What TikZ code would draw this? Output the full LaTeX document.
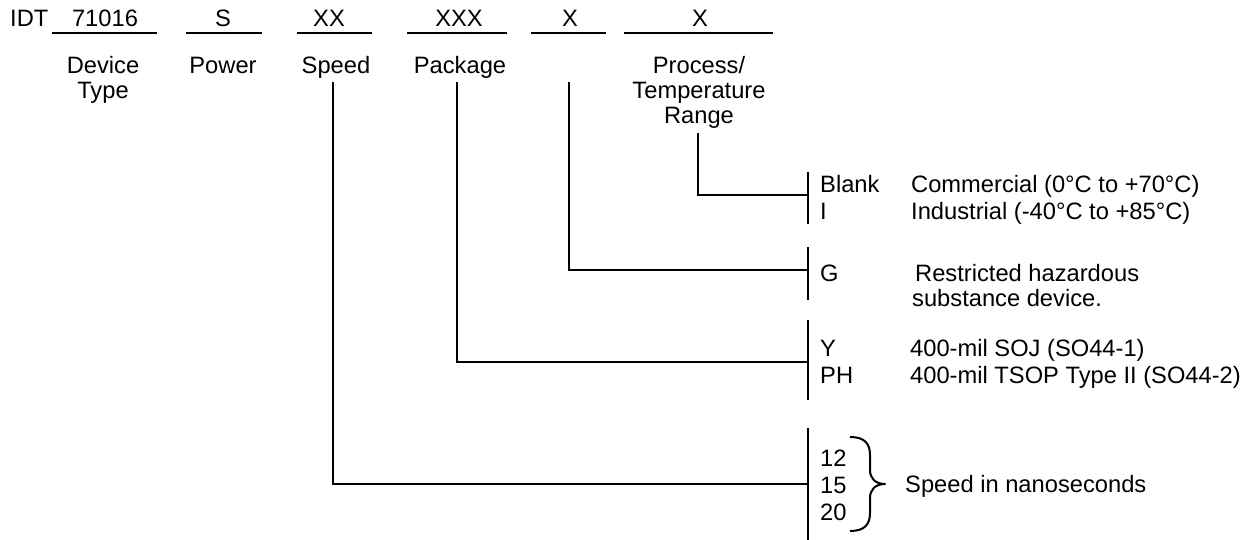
\documentclass[tikz,border=0pt]{standalone}
\usepackage{fontspec}
\setmainfont{Liberation Sans}
\begin{document}
\begin{tikzpicture}[x=1pt,y=-1pt,
  font=\fontsize{23.7}{26}\selectfont,
  lw/.style={line width=2pt},
  lt/.style={inner sep=0pt, anchor=base west},
  ct/.style={inner sep=0pt, anchor=base},
  uline/.style={lw},
  conn/.style={lw},
  bar/.style={lw}]
\useasboundingbox (0,0) rectangle (1248,540);

% ---- header code fields ----
\node[lt] (idt) at (10,27) {IDT};
\node[ct] (f1) at (105,27) {71016};
\node[ct] (f2) at (223,27) {S};
\node[ct] (f3) at (329,27) {XX};
\node[ct] (f4) at (459,27) {XXX};
\node[ct] (f5) at (570,27) {X};
\node[ct] (f6) at (700,27) {X};
\draw[uline] (52,33) -- (157,33);
\draw[uline] (186,33) -- (262,33);
\draw[uline] (297,33) -- (372,33);
\draw[uline] (407,33) -- (507,33);
\draw[uline] (531,33) -- (606,33);
\draw[uline] (624,33) -- (773,33);

% ---- field labels ----
\node[ct] (dev1) at (103,74) {Device};
\node[ct] (dev2) at (103,99) {Type};
\node[ct] (pow) at (223,74) {Power};
\node[ct] (spd) at (336,74) {Speed};
\node[ct] (pkg) at (460,74) {Package};
\node[ct] (pr1) at (699,74) {Process/};
\node[ct] (pr2) at (699,99) {Temperature};
\node[ct] (pr3) at (699,124) {Range};

% ---- connector end points ----
\coordinate (spdtop) at (333,82);
\coordinate (pkgtop) at (457,82);
\coordinate (xtop) at (569,82);
\coordinate (prtop) at (698,133);
\coordinate (barpr) at (808,195);
\coordinate (barx) at (808,270);
\coordinate (barpkg) at (808,362);
\coordinate (barspd) at (808,484);

% ---- connectors ----
\draw[conn] (prtop) |- (barpr);
\draw[conn] (xtop) |- (barx);
\draw[conn] (pkgtop) |- (barpkg);
\draw[conn] (spdtop) |- (barspd);

% ---- bars ----
\draw[bar] (808,172) -- (808,224);
\draw[bar] (808,247) -- (808,300);
\draw[bar] (808,320) -- (808,400);
\draw[bar] (808,428) -- (808,540);

% ---- option texts ----
\node[lt] (oblank) at (820,193) {Blank};
\node[lt] (oi) at (820,220) {I};
\node[lt] (tcom) at (911,193) {Commercial (0°C to +70°C)};
\node[lt] (tind) at (911,220) {Industrial (-40°C to +85°C)};

\node[lt] (og) at (820,281) {G};
\node[lt] (trh1) at (915,281) {Restricted hazardous};
\node[lt] (trh2) at (912,306) {substance device.};

\node[lt] (oy) at (820,356) {Y};
\node[lt] (oph) at (820,383) {PH};
\node[lt] (tsoj) at (910,356) {400-mil SOJ (SO44-1)};
\node[lt] (ttsop) at (910,383) {400-mil TSOP Type II (SO44-2)};

\node[lt] (s12) at (820,466) {12};
\node[lt] (s15) at (820,493) {15};
\node[lt] (s20) at (820,520) {20};
\node[lt] (tspd) at (905,492) {Speed in nanoseconds};

% ---- brace ----
\draw[lw, line join=round] (850,437)
  .. controls (864,437) and (870,443) .. (870,455)
  -- (870,470)
  .. controls (870,478) and (875,484) .. (885,484)
  .. controls (875,484) and (870,490) .. (870,498)
  -- (870,513)
  .. controls (870,525) and (864,531) .. (850,531);
\end{tikzpicture}
\end{document}
